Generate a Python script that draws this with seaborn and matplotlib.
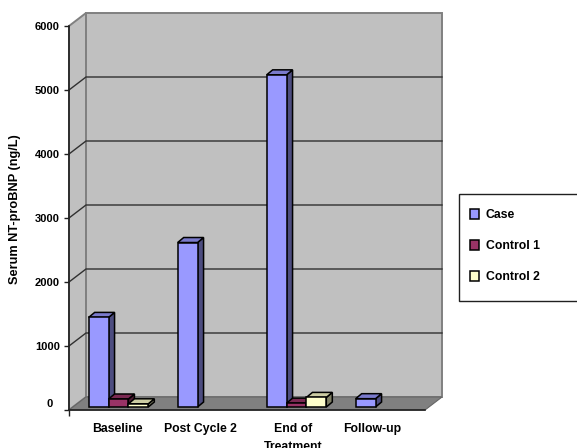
import numpy as np
import pandas as pd
import matplotlib
matplotlib.use("Agg")
import matplotlib.pyplot as plt
from matplotlib.patches import Polygon, Rectangle
from matplotlib.transforms import Affine2D, IdentityTransform
import seaborn as sns

categories = ["Baseline", "Post Cycle 2", "End of\nTreatment", "Follow-up"]
series_names = ["Case", "Control 1", "Control 2"]
case_values = [1400, 2570, 5190, 130]
control1_values = [125, np.nan, 60, np.nan]
control2_values = [50, np.nan, 150, np.nan]
y_ticks = [0, 1000, 2000, 3000, 4000, 5000, 6000]
label_shift_px = [3.5, -2.5, 1.5, -8.5]

colors = ["#9999FF", "#993366", "#FFFFCC"]
side_colors = ["#4D4D80", "#4D1A33", "#808066"]
top_colors = ["#7A7ACC", "#7A2952", "#CCCCA3"]

W, H = 577, 448
DPI = 100
plt.rcParams["font.family"] = ["Liberation Sans", "DejaVu Sans"]
plt.rcParams["font.weight"] = "bold"

df = pd.DataFrame({
    "category": categories * 3,
    "series": [s for s in series_names for _ in categories],
    "value": case_values + control1_values + control2_values,
})

fig = plt.figure(figsize=(W / DPI, H / DPI), dpi=DPI, facecolor="white")
L, R, T, B = 69, 425, 26, 410
ax = fig.add_axes([L / W, 1 - B / H, (R - L) / W, (B - T) / H])

sns.barplot(data=df, x="category", y="value", hue="series", order=categories,
            hue_order=series_names, palette=colors, width=0.67, saturation=1,
            edgecolor="black", linewidth=1.1, ax=ax, legend=False, zorder=5)
ax.set_xlim(-0.5, 3.5)
ax.set_ylim(0, 6000)
ax.patch.set_visible(False)

# depth of the plot box and of the bars, in pixels
DX, DY = 17, 13
BAR_FRONT = (5, 3)
BAR_BACK = (11, 8)


def to_px(x, y, off=(0, 0)):
    px = ax.transData.transform((x, y))
    return (px[0] + off[0], px[1] + off[1])


def poly(pts, face, edge="none", lw=0.0, z=1):
    ax.add_patch(Polygon(pts, closed=True, facecolor=face, edgecolor=edge, linewidth=lw,
                         transform=IdentityTransform(), clip_on=False, zorder=z))


x0, x1 = ax.get_xlim()
y0, y1 = ax.get_ylim()
d = (DX, DY)
wall = "#C0C0C0"
wall_edge = "#808080"
poly([to_px(x0, y0), to_px(x0, y1), to_px(x0, y1, d), to_px(x0, y0, d)], wall, wall_edge, 1.4, 1)
poly([to_px(x0, y0, d), to_px(x0, y1, d), to_px(x1, y1, d), to_px(x1, y0, d)], wall, wall_edge, 1.4, 1)
poly([to_px(x0, y0), to_px(x1, y0), to_px(x1, y0, d), to_px(x0, y0, d)], "#808080", "#666666", 0.8, 1.5)

for t in y_ticks[1:-1]:
    a, b, c = to_px(x0, t), to_px(x0, t, d), to_px(x1, t, d)
    ax.plot([a[0], b[0], c[0]], [a[1], b[1], c[1]], color="#303030", lw=1.0,
            transform=IdentityTransform(), clip_on=False, zorder=2)

# give each flat bar from seaborn its side and top, using its own data extent
bars = [p for p in ax.patches if isinstance(p, Rectangle)]
bars = [b for b in bars if b.get_height() == b.get_height() and b.get_height() > 0]
bars.sort(key=lambda b: b.get_x())
shift = Affine2D().translate(*BAR_FRONT)
for i, bar in enumerate(bars):
    z = 5 + i * 0.1
    idx = colors.index(matplotlib.colors.to_hex(bar.get_facecolor()).upper())
    xa, xb = bar.get_x(), bar.get_x() + bar.get_width()
    top = bar.get_height()
    poly([to_px(xb, 0, BAR_FRONT), to_px(xb, top, BAR_FRONT), to_px(xb, top, BAR_BACK), to_px(xb, 0, BAR_BACK)],
         side_colors[idx], "black", 1.1, z)
    poly([to_px(xa, top, BAR_FRONT), to_px(xb, top, BAR_FRONT), to_px(xb, top, BAR_BACK), to_px(xa, top, BAR_BACK)],
         top_colors[idx], "black", 1.1, z)
    bar.set_transform(ax.transData + shift)
    bar.set_clip_on(False)
    bar.set_zorder(z + 0.05)

for s in ["top", "right"]:
    ax.spines[s].set_visible(False)
for s in ["left", "bottom"]:
    ax.spines[s].set_color("#202020")
    ax.spines[s].set_linewidth(1.2)
    ax.spines[s].set_zorder(20)

ax.set_yticks(y_ticks)
ax.tick_params(axis="y", length=3.5, width=1, color="#202020", pad=3, labelsize=8)
ax.tick_params(axis="x", length=0, pad=9, labelsize=8.8)
ax.set_xticks(range(len(categories)), categories)
ax.set_xticks([x0], minor=True)
ax.tick_params(axis="x", which="minor", length=4, width=1, color="#202020")
for lab, sh in zip(ax.get_xticklabels(), label_shift_px):
    lab.set_transform(lab.get_transform() + Affine2D().translate(sh, 0))
    lab.set_linespacing(1.68)
# the zero label sits a little up and to the left of its tick in the original
zero_label = ax.get_yticklabels()[0]
zero_label.set_transform(zero_label.get_transform() + Affine2D().translate(-7, 7))
ax.set_xlabel("")
ax.set_ylabel("")
fig.text(15 / W, 1 - 209 / H, "Serum NT-proBNP (ng/L)", rotation=90, ha="center", va="center",
         fontsize=9.2, fontweight="bold")

# legend box runs off the right edge of the picture, as in the original
fig.add_artist(Rectangle((458.5 / W, 1 - 301 / H), 130 / W, 107 / H, transform=fig.transFigure,
                         facecolor="white", edgecolor="#202020", linewidth=1.0, clip_on=True))
handles = [Rectangle((0, 0), 1, 1, facecolor=c, edgecolor="black", linewidth=1.1) for c in colors]
leg = fig.legend(handles, series_names, loc="upper left",
                 bbox_to_anchor=(458 / W, 1 - 197 / H), bbox_transform=fig.transFigure,
                 frameon=False,
                 prop={"size": 8.8, "weight": "bold"}, handlelength=0.75, handleheight=0.8,
                 labelspacing=1.55, handletextpad=0.5, borderpad=1.0, borderaxespad=0)

fig.savefig("out.png", dpi=DPI)
